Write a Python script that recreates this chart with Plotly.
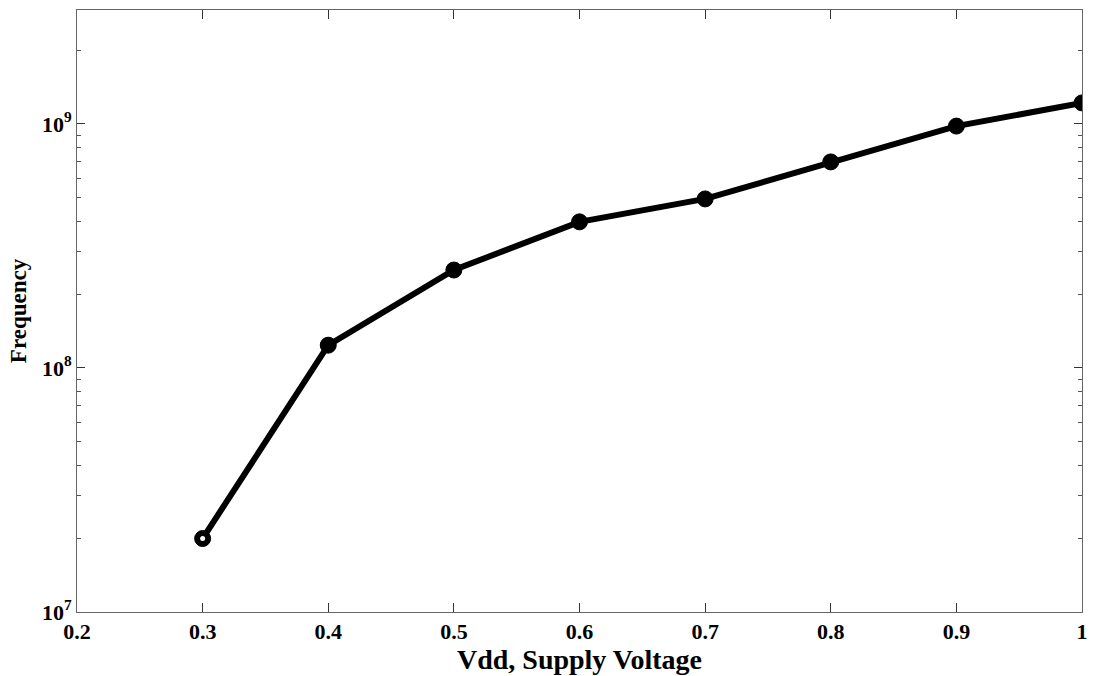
import plotly.graph_objects as go

vdd = [0.3, 0.4, 0.5, 0.6, 0.7, 0.8, 0.9, 1.0]
freq = [2.0e7, 1.24e8, 2.52e8, 3.97e8, 4.93e8, 6.99e8, 9.8e8, 1.22e9]

x_ticks = [0.2, 0.3, 0.4, 0.5, 0.6, 0.7, 0.8, 0.9, 1.0]
x_ticktext = ["0.2", "0.3", "0.4", "0.5", "0.6", "0.7", "0.8", "0.9", "1"]
y_ticks = [1e7, 1e8, 1e9]
y_ticktext = ["10<sup>7</sup>", "10<sup>8</sup>", "10<sup>9</sup>"]

font_family = "Liberation Serif, Times New Roman, serif"

fig = go.Figure()
fig.add_trace(go.Scatter(
    x=vdd, y=freq, mode="lines+markers",
    line=dict(color="black", width=6),
    marker=dict(symbol="circle", size=16, color="black",
                line=dict(color="black", width=1)),
    showlegend=False,
))
# white centre visible only on the first (ring-like) marker
fig.add_trace(go.Scatter(
    x=vdd[:1], y=freq[:1], mode="markers",
    marker=dict(symbol="circle", size=5, color="white"),
    showlegend=False, hoverinfo="skip",
))

axis_common = dict(
    showgrid=False, zeroline=False, showline=True, linecolor="#666666",
    linewidth=1, mirror="ticks", ticks="inside", tickcolor="#333333",
    tickfont=dict(family=font_family, size=22, color="black", weight="bold"),
)

fig.update_layout(
    width=1094, height=676,
    paper_bgcolor="white", plot_bgcolor="white",
    margin=dict(l=77, r=6, t=10, b=64),
    xaxis=dict(range=[0.2, 1.0], tickvals=x_ticks, ticktext=x_ticktext,
               ticklen=9,
               title=dict(text="Vdd, Supply Voltage", standoff=4,
                          font=dict(family=font_family, size=28, color="black", weight="bold")),
               **axis_common),
    yaxis=dict(type="log", range=[7, 9.467], tickvals=y_ticks, ticktext=y_ticktext,
               ticklen=8,
               minor=dict(ticks="inside", ticklen=4, tickcolor="#555555",
                          tickvals=[v * 10 ** e for e in range(7, 10) for v in range(2, 10)]),
               title=dict(text="Frequency", standoff=8,
                          font=dict(family=font_family, size=23, color="black", weight="bold")),
               **axis_common),
)

fig.write_html("out.html")
